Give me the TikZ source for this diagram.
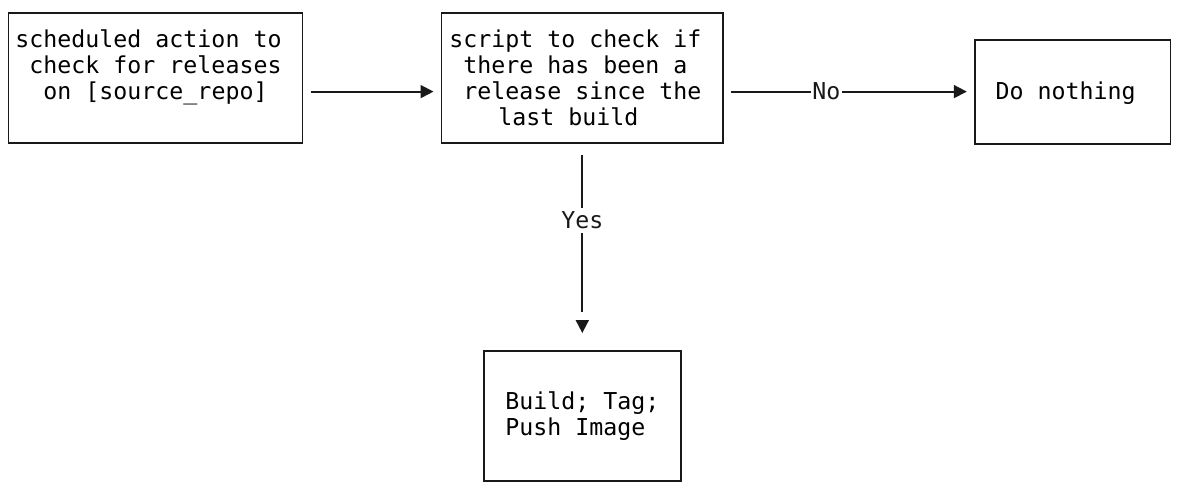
\documentclass[tikz,border=0pt]{standalone}
\usepackage{fontspec}
\newfontfamily\asciimono{DejaVu Sans Mono}
\usetikzlibrary{positioning,arrows.meta}
\newcommand{\padch}{\hphantom{x}}
\newcommand{\blankline}{\rule[-2pt]{0pt}{2pt}}

\begin{document}
\begin{tikzpicture}[
  x=1pt,y=1pt,
  font=\asciimono\fontsize{23.26}{26}\selectfont,
  >={Triangle[length=13pt,width=13pt]},
  stepbox/.style={draw=black!90,line width=1.8pt,inner sep=0pt,outer sep=0pt,align=center},
  arr/.style={->,line width=1.8pt,black!90},
  lbl/.style={fill=white,inner xsep=1.5pt,inner ysep=4pt}
]
\useasboundingbox (0,0) rectangle (1178,-496);
% scheduled action
\node[stepbox,minimum width=294pt,minimum height=130pt] (sched) at (155.5,-78.3) {scheduled action to\padch\\check for releases\\on [source{\char`\_}repo]\\\blankline};
% release check
\node[stepbox,minimum width=281.6pt,minimum height=130pt,right=139pt of sched] (check) {script to check if\padch\\there has been a\padch\\release since the\\last build\padch\padch};
% outcomes
\node[stepbox,text depth=1.5pt,minimum width=195.7pt,minimum height=104pt,right=251.7pt of check,yshift=-13.3pt] (nothing) {Do nothing\padch};
\node[stepbox,align=left,minimum width=196.7pt,minimum height=129.7pt,below=207.7pt of check] (build) {Build; Tag;\\Push Image};
% arrows
\draw[arr,shorten <=8pt,shorten >=8pt] ([yshift=-13.3pt]sched.east) -- ([yshift=-13.3pt]check.west);
\draw[arr,shorten <=8pt,shorten >=8pt] ([yshift=-13.3pt]check.east) -- node[lbl,pos=0.41]{No} (nothing.west);
\coordinate (yestip) at ([yshift=18pt]build.north);
\draw[line width=1.8pt,black!90,shorten <=11.7pt,shorten >=39pt] (check.south) -- node[lbl,pos=0.372]{Yes} (build.north);
\draw[arr] ([yshift=13pt]yestip) -- (yestip);
\end{tikzpicture}
\end{document}
